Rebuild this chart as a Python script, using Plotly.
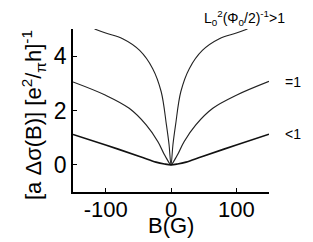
import plotly.graph_objects as go

# B field (G) and curves
b_top = [-117, -100, -74, -48, -28, -15, -7, -3, 0, 3, 7, 15, 28, 48, 74, 100, 117]
y_top = [5.0, 4.85, 4.64, 4.21, 3.54, 2.69, 1.47, 0.75, 0.0, 0.75, 1.47, 2.69, 3.54, 4.21, 4.64, 4.85, 5.0]

b_mid = [-150, -100, -64, -38, -20, -10, -4, 0, 4, 10, 20, 38, 64, 100, 150]
y_mid = [3.05, 2.56, 2.08, 1.47, 0.85, 0.37, 0.12, 0.0, 0.12, 0.37, 0.85, 1.47, 2.08, 2.56, 3.07]

b_low = [-150, -100, -48, -23, -10, 0, 10, 23, 48, 100, 150]
y_low = [1.12, 0.73, 0.31, 0.10, 0.03, 0.0, 0.03, 0.10, 0.31, 0.73, 1.13]

x_ticks = [-100, 0, 100]
x_ticktext = ["-100", "0", "100"]
y_ticks = [0, 2, 4]
y_ticktext = ["0", "2", "4"]

fig = go.Figure()
fig.add_trace(go.Scatter(x=b_top, y=y_top, mode="lines", line=dict(color="#222", width=1.1, shape="spline"), showlegend=False))
fig.add_trace(go.Scatter(x=b_mid, y=y_mid, mode="lines", line=dict(color="#222", width=1.2, shape="spline"), showlegend=False))
fig.add_trace(go.Scatter(x=b_low, y=y_low, mode="lines", line=dict(color="#111", width=1.6, shape="spline"), showlegend=False))

font = "Liberation Sans, Arial, sans-serif"
OFF = 8  # default body margin of the page
W, H = 313 - OFF, 242 - OFF
# plot area in viewport pixels: x 73..269, y 29..192
L, T = 73 - OFF, 29 - OFF
R = W - (269 - OFF)
B = H - (192 - OFF)
fig.update_layout(
    width=W, height=H,
    margin=dict(l=L, r=R, t=T, b=B),
    paper_bgcolor="white", plot_bgcolor="white",
    font=dict(family=font, color="black"),
    xaxis=dict(range=[-150, 150], tickvals=x_ticks, ticktext=x_ticktext, ticks="inside", ticklen=4, tickcolor="black",
               showline=True, linecolor="black", linewidth=1.5, showgrid=False, zeroline=False,
               ticklabelstandoff=-3, tickfont=dict(size=22, family=font)),
    yaxis=dict(range=[-1, 5], tickvals=y_ticks, ticktext=y_ticktext, ticks="inside", ticklen=4, tickcolor="black",
               showline=True, linecolor="black", linewidth=1.5, showgrid=False, zeroline=False,
               tickfont=dict(size=23, family=font)),
)
pw, ph = W - L - R, H - T - B
def px_x(p):
    return (p - OFF - L) / pw
def px_y(p):
    return (H - B - (p - OFF)) / ph

fig.add_annotation(xref="paper", yref="paper", x=px_x(171), y=px_y(225), xanchor="center", yanchor="middle",
                   text="B(G)", showarrow=False, font=dict(size=22, family=font))
fig.add_annotation(xref="paper", yref="paper", x=px_x(33), y=px_y(115), xanchor="center", yanchor="middle",
                   textangle=-90, text="[a Δσ(B)] [e<sup>2</sup>/<sub>π</sub>h]<sup>-1</sup>", showarrow=False,
                   font=dict(size=22, family=font))
fig.add_annotation(xref="paper", yref="paper", x=px_x(287), y=px_y(18), yanchor="middle", xanchor="right",
                   text="L<sub>0</sub><sup>2</sup>(Φ<sub>0</sub>/2)<sup>-1</sup>>1", showarrow=False,
                   font=dict(size=14, family=font))
fig.add_annotation(xref="paper", yref="y", x=px_x(283), y=3.05, xanchor="left", yanchor="middle",
                   text="=1", showarrow=False, font=dict(size=14, family=font))
fig.add_annotation(xref="paper", yref="y", x=px_x(283), y=1.12, xanchor="left", yanchor="middle",
                   text="<1", showarrow=False, font=dict(size=14, family=font))

fig.write_html("out.html")
